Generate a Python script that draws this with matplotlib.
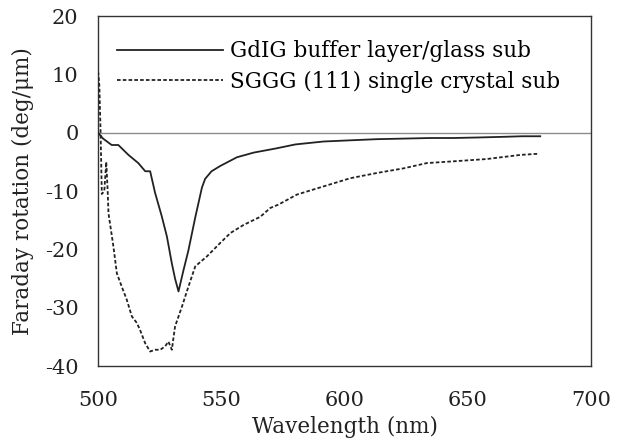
import matplotlib
matplotlib.use("Agg")
import matplotlib.pyplot as plt

plt.rcParams['font.family'] = ['DejaVu Serif']
plt.rcParams['axes.unicode_minus'] = False

# GdIG buffer layer / glass substrate
wl_gdig = [500, 502, 505.5, 508.2, 512.3, 516.3, 519.1, 521.1, 523.1, 525.8, 527.9,
           529.9, 531.2, 532.6, 534.6, 536.6, 539.4, 542.1, 543.4, 546, 549.5, 556.3,
           563.1, 572, 580, 591.4, 602, 613, 624, 634.7, 644, 655, 664, 672, 679.3]
fr_gdig = [0, -1.0, -2.1, -2.1, -3.8, -5.2, -6.6, -6.6, -10.3, -14.3, -17.8,
           -22.4, -25.0, -27.2, -23.6, -20.2, -14.5, -9.4, -7.9, -6.6, -5.7, -4.2,
           -3.4, -2.7, -2.0, -1.5, -1.3, -1.1, -1.0, -0.9, -0.9, -0.8, -0.7, -0.6, -0.6]

# SGGG (111) single crystal substrate
wl_sggg = [500, 500.5, 501, 501.5, 502.5, 503.3, 503.9, 504.2, 506.2, 507.6, 509.6,
           511.6, 513.7, 515.7, 517, 519.1, 521.1, 523.1, 525.2, 527.2, 528.5, 529.9,
           531.2, 534, 536.6, 539.4, 544.1, 549.5, 553.6, 559, 565.8, 569.8, 573.2,
           580.6, 591.4, 602.2, 613, 623.9, 633.3, 644, 657.7, 671.2, 678.5]
fr_sggg = [10.5, 8.0, 0, -10.5, -10.0, -5.0, -10.3, -13.8, -19.5, -24.1, -26.4,
           -28.6, -31.5, -32.6, -33.8, -36.1, -37.5, -37.2, -37.2, -36.6, -35.8, -37.2,
           -33.2, -29.8, -26.4, -22.9, -21.2, -18.9, -17.2, -15.8, -14.4, -12.9, -12.3,
           -10.6, -9.2, -7.8, -6.9, -6.1, -5.2, -4.9, -4.5, -3.8, -3.6]

labels = ['GdIG buffer layer/glass sub', 'SGGG (111) single crystal sub']
xticks = [500, 550, 600, 650, 700]
yticks = [-40, -30, -20, -10, 0, 10, 20]

fig = plt.figure(figsize=(6.25, 4.47), dpi=100)
ax = fig.add_axes([0.157, 0.181, 0.789, 0.783])

ax.axhline(0, color='#8c8c8c', lw=1.0, zorder=1)
ax.plot(wl_gdig, fr_gdig, color='#222222', lw=1.3, label=labels[0], zorder=3)
ax.plot(wl_sggg, fr_sggg, color='#222222', lw=1.3, linestyle=(0, (2.0, 1.2)),
        label=labels[1], zorder=3)

ax.set_xlim(500, 700)
ax.set_ylim(-40, 20)
ax.set_xticks(xticks)
ax.set_yticks(yticks)
ax.tick_params(length=0, labelsize=15, colors='#222222')
ax.tick_params(axis='x', pad=18)
ax.tick_params(axis='y', pad=14)
for s in ax.spines.values():
    s.set_color('#333333')
    s.set_linewidth(1.0)

ax.set_xlabel('Wavelength (nm)', fontsize=15.5, color='#222222', labelpad=4)
ax.set_ylabel('Faraday rotation (deg/μm)', fontsize=15.5, color='#222222')
ax.yaxis.set_label_coords(-0.13, 0.5)

leg = ax.legend(loc='upper left', frameon=False, fontsize=15.5, handlelength=4.93,
                handletextpad=0.33, labelspacing=0.4, borderpad=0, borderaxespad=0,
                bbox_to_anchor=(0.038, 0.931))

fig.savefig('out.png', dpi=100)
